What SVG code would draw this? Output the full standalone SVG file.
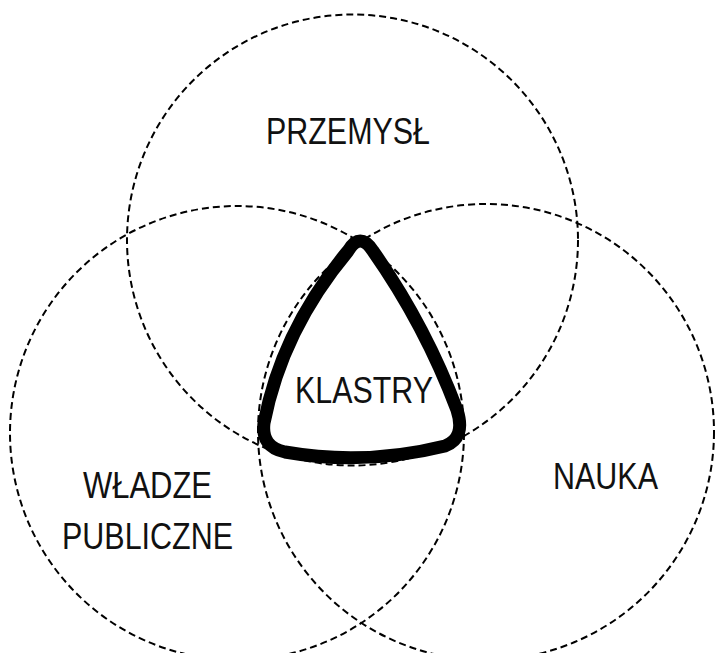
<svg xmlns="http://www.w3.org/2000/svg" width="715" height="653" viewBox="0 0 715 653">
<style>
.c{fill:none;stroke:#000;stroke-width:2;stroke-dasharray:7 4}
.t{font-family:"Liberation Sans",Arial,sans-serif;font-size:37px;fill:#111;text-anchor:middle}
.k{fill:none;stroke:#000;stroke-width:13;stroke-linejoin:round}
</style>
<rect width="715" height="653" fill="#fff"/>
<g id="circles">
<g id="przemysl"><circle class="c" cx="352.5" cy="240" r="225.5"/><text class="t" x="348" y="144" textLength="164" lengthAdjust="spacingAndGlyphs">PRZEMYSŁ</text></g>
<g id="wladze"><circle class="c" cx="237" cy="433" r="227"/><text class="t" x="147.5" y="498" textLength="129" lengthAdjust="spacingAndGlyphs">WŁADZE</text><text class="t" x="147.5" y="549" textLength="171" lengthAdjust="spacingAndGlyphs">PUBLICZNE</text></g>
<g id="nauka"><circle class="c" cx="486" cy="432" r="228"/><text class="t" x="605.5" y="489" textLength="105" lengthAdjust="spacingAndGlyphs">NAUKA</text></g>
</g>
<g id="klastry">
<path class="k" d="M348,251 Q360,231 373,251 Q425,325 457,410 Q466,438 445,446 Q365,466 285,452 Q261,447 264,423 Q282,330 348,251 Z"/>
<text class="t" x="364" y="403" textLength="138" lengthAdjust="spacingAndGlyphs">KLASTRY</text>
</g>
</svg>
